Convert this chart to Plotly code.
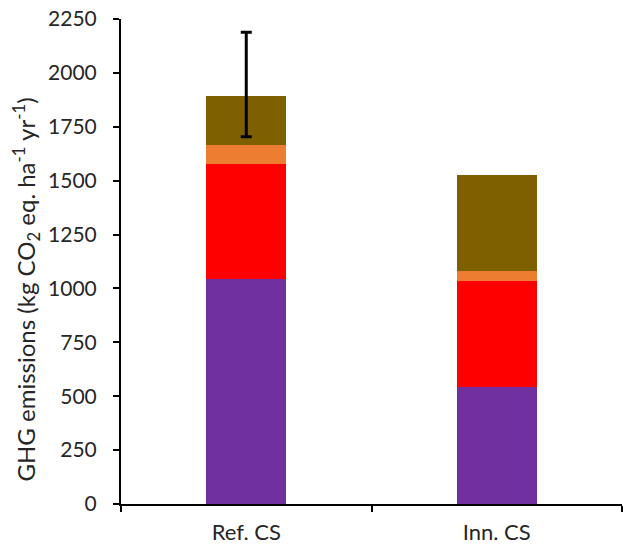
import plotly.graph_objects as go

categories = ["Ref. CS", "Inn. CS"]
purple_vals = [1045, 541]
red_vals = [532, 492]
orange_vals = [87, 48]
brown_vals = [228, 445]
err_category = ["Ref. CS"]
err_plus = [297]
err_minus = [188]
y_ticks = [0, 250, 500, 750, 1000, 1250, 1500, 1750, 2000, 2250]
y_title = "GHG emissions (kg CO<sub>2</sub> eq. ha<sup>-1</sup> yr<sup>-1</sup>)"

colors = ["#7030A0", "#FF0000", "#ED7D31", "#7F6000"]
series = [purple_vals, red_vals, orange_vals, brown_vals]

fig = go.Figure()
for vals, col in zip(series, colors):
    fig.add_trace(go.Bar(x=categories, y=vals, marker=dict(color=col, line=dict(width=0)),
                         width=0.32, showlegend=False))

totals = {c: sum(s[i] for s in series) for i, c in enumerate(categories)}
fig.add_trace(go.Scatter(
    x=err_category, y=[totals[c] for c in err_category], mode="markers",
    marker=dict(size=1, opacity=0), showlegend=False, hoverinfo="skip",
    error_y=dict(type="data", symmetric=False, array=err_plus, arrayminus=err_minus,
                 color="black", thickness=3, width=5.5),
))

font_family = "Lato, Open Sans, sans-serif"
text_color = "#262626"
fig.update_layout(
    barmode="stack",
    width=623, height=546,
    margin=dict(l=121, r=1, t=19, b=42),
    plot_bgcolor="white", paper_bgcolor="white",
    font=dict(family=font_family, color=text_color),
    annotations=[dict(
        text=y_title, textangle=-90, showarrow=False,
        xref="paper", yref="paper", x=0, y=0.5, xshift=-96, yshift=-28,
        xanchor="center", yanchor="middle",
        font=dict(size=24, family=font_family, color=text_color),
    )],
)
fig.update_yaxes(
    range=[0, 2250], tickvals=y_ticks, ticktext=[str(v) for v in y_ticks],
    showgrid=False, zeroline=False,
    showline=True, linecolor="black", linewidth=2,
    ticks="outside", ticklen=6, tickwidth=2, tickcolor="black",
    tickfont=dict(size=21, family=font_family, color=text_color),
    ticklabelstandoff=12,
)
fig.update_xaxes(
    range=[-0.5, 1.5], showgrid=False, zeroline=False,
    showline=True, linecolor="black", linewidth=2,
    ticks="outside", tickson="boundaries", ticklen=6, tickwidth=2, tickcolor="black",
    tickfont=dict(size=22, family=font_family, color=text_color),
    ticklabelstandoff=8,
)

fig.write_html("out.html", config={"displayModeBar": False},
               post_script="document.body.style.margin='0px';")
